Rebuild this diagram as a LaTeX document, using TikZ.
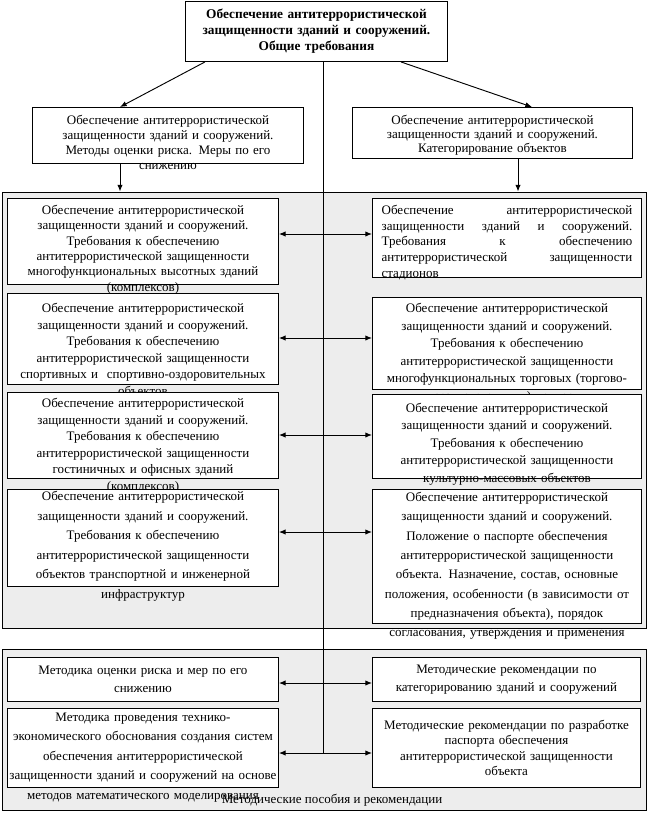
\documentclass[tikz,border=0pt]{standalone}
\usepackage{fontspec}
\setmainfont{Liberation Serif}
\usepackage{tikz}
\usetikzlibrary{positioning,arrows.meta,calc,fit}

\begin{document}
\begin{tikzpicture}[
  x=0.75pt, y=-0.75pt,
  font=\fontsize{9.75}{11.5}\selectfont,
  >={Latex[length=5pt,width=4pt]},
  panel/.style={draw, line width=0.7pt, fill=gray!14, inner sep=0pt},
  box/.style={draw, line width=0.7pt, fill=white, inner sep=0pt,
              anchor=north west, align=center},
  lbox/.style={box, text width=203.25pt},
  rbox/.style={box, text width=201.75pt},
  arrow/.style={->, line width=0.7pt},
  line/.style={line width=0.7pt}
]
\useasboundingbox (0,0) rectangle (649,813);

% Top
\node[box, text width=196.5pt, minimum height=45pt,
      font=\fontsize{10}{12}\selectfont\bfseries] (top) at (185,1)
      {Обеспечение антитеррористической\\ защищенности зданий и сооружений.\\ Общие требования};

% Second level
\node[box, text width=203.25pt, text height=12.75pt, text depth=29.25pt,
      font=\fontsize{9.75}{11.25}\selectfont] (meth) at (32,107)
      {Обеспечение антитеррористической\\ защищенности зданий и сооружений.\\ Методы оценки риска. Меры по его\\ снижению};
\node[box, text width=210pt, text height=12.75pt, text depth=25.5pt,
      font=\fontsize{9.75}{10.5}\selectfont] (categ) at (352,107)
      {Обеспечение антитеррористической\\ защищенности зданий и сооружений.\\ Категорирование объектов};

% Requirements
\node[panel, fit={(2,192) (646,628)}] (grp1) {};

\node[lbox, text height=12pt, text depth=52.5pt,
      font=\fontsize{9.75}{11.5}\selectfont] (lreq1) at (7,198)
      {Обеспечение антитеррористической\\ защищенности зданий и сооружений.\\ Требования к обеспечению\\ антитеррористической защищенности\\ многофункциональных высотных зданий\\ (комплексов)};
\node[box, text width=188pt, minimum width=201.75pt, text height=12pt, text depth=47.25pt,
      font=\fontsize{9.75}{11.8}\selectfont] (rreq1) at (372,198)
      {Обеспечение\hfill антитеррористической\\ защищенности\hfill зданий\hfill и\hfill сооружений.\\ Требования\hfill к\hfill обеспечению\\ антитеррористической\hfill защищенности\\ стадионов\hfill\mbox{}};

\node[lbox, text height=14.25pt, text depth=54pt,
      font=\fontsize{9.75}{12.4}\selectfont] (lreq2) at (7,293)
      {Обеспечение антитеррористической\\ защищенности зданий и сооружений.\\ Требования к обеспечению\\ антитеррористической защищенности\\ спортивных и~ спортивно-оздоровительных\\ объектов};
\node[rbox, text height=11.25pt, text depth=57.75pt,
      font=\fontsize{9.75}{13.2}\selectfont] (rreq2) at (372,297)
      {Обеспечение антитеррористической\\ защищенности зданий и сооружений.\\ Требования к обеспечению\\ антитеррористической защищенности\\ многофункциональных торговых (торгово-\\ развлекательных) центров};

\node[lbox, text height=11.25pt, text depth=53.25pt,
      font=\fontsize{9.75}{12.4}\selectfont] (lreq3) at (7,392)
      {Обеспечение антитеррористической\\ защищенности зданий и сооружений.\\ Требования к обеспечению\\ антитеррористической защищенности\\ гостиничных и офисных зданий\\ (комплексов)};
\node[rbox, text height=13.5pt, text depth=49.5pt,
      font=\fontsize{9.75}{13.1}\selectfont] (rreq3) at (372,394)
      {Обеспечение антитеррористической\\ защищенности зданий и сооружений.\\ Требования к обеспечению\\ антитеррористической защищенности\\ культурно-массовых объектов};

\node[lbox, text height=8.25pt, text depth=64.5pt,
      font=\fontsize{9.75}{14.7}\selectfont] (lreq4) at (7,489)
      {Обеспечение антитеррористической\\ защищенности зданий и сооружений.\\ Требования к обеспечению\\ антитеррористической защищенности\\ объектов транспортной и инженерной\\ инфраструктур};
\node[rbox, text height=9pt, text depth=91.5pt,
      font=\fontsize{9.75}{14.5}\selectfont] (rreq4) at (372,489)
      {Обеспечение антитеррористической\\ защищенности зданий и сооружений.\\ Положение о паспорте обеспечения\\ антитеррористической защищенности\\ объекта. Назначение, состав, основные\\ положения, особенности (в зависимости от\\ предназначения объекта), порядок\\ согласования, утверждения и применения};

% Manuals
\node[panel, fit={(2,649) (646,810)}] (grp2) {};

\node[lbox, minimum height=33pt, font=\fontsize{9.75}{13.5}\selectfont] (lmeth1) at (7,657)
      {Методика оценки риска и мер по его\\ снижению};
\node[box, text width=201pt, minimum height=33pt, font=\fontsize{9.75}{13.5}\selectfont] (rmeth1) at (372,657)
      {Методические рекомендации по\\ категорированию зданий и сооружений};
\node[lbox, text height=9.75pt, text depth=49.5pt,
      font=\fontsize{9.75}{14.6}\selectfont] (lmeth2) at (7,708)
      {Методика проведения технико-\\ экономического обоснования создания систем\\ обеспечения антитеррористической\\ защищенности зданий и сооружений на основе\\ методов математического моделирования};
\node[box, text width=201pt, minimum height=59.25pt, font=\fontsize{9.75}{11.6}\selectfont] (rmeth2) at (372,708)
      {Методические рекомендации по разработке\\ паспорта обеспечения\\ антитеррористической защищенности\\ объекта};
\node[anchor=base] (grp2lbl) at (332,803) {Методические пособия и рекомендации};

% Flows
\coordinate (j1) at (323,234);
\coordinate (j2) at (323,338);
\coordinate (j3) at (323,435);
\coordinate (j4) at (323,532);
\coordinate (j5) at (323,683);
\coordinate (j6) at (323,753);

\draw[arrow] ($(top.south west)+(20,0)$) -- ($(meth.north west)+(88,0)$);
\draw[arrow] ($(top.south east)+(-47,0)$) -- ($(categ.north west)+(180,0)$);
\coordinate (mdown) at ($(meth.south west)+(88,0)$);
\coordinate (cdown) at ($(categ.south west)+(166,0)$);
\draw[arrow] (mdown) -- (mdown |- grp1.north);
\draw[arrow] (cdown) -- (cdown |- grp1.north);
\draw[line] (top.south -| j1) -- (j6);

\draw[arrow] (j1) -- (j1 -| lreq1.east);
\draw[arrow] (j1) -- (j1 -| rreq1.west);
\draw[arrow] (j2) -- (j2 -| lreq2.east);
\draw[arrow] (j2) -- (j2 -| rreq2.west);
\draw[arrow] (j3) -- (j3 -| lreq3.east);
\draw[arrow] (j3) -- (j3 -| rreq3.west);
\draw[arrow] (j4) -- (j4 -| lreq4.east);
\draw[arrow] (j4) -- (j4 -| rreq4.west);

\draw[arrow] (j5) -- (j5 -| lmeth1.east);
\draw[arrow] (j5) -- (j5 -| rmeth1.west);
\draw[arrow] (j6) -- (j6 -| lmeth2.east);
\draw[arrow] (j6) -- (j6 -| rmeth2.west);

\end{tikzpicture}
\end{document}
